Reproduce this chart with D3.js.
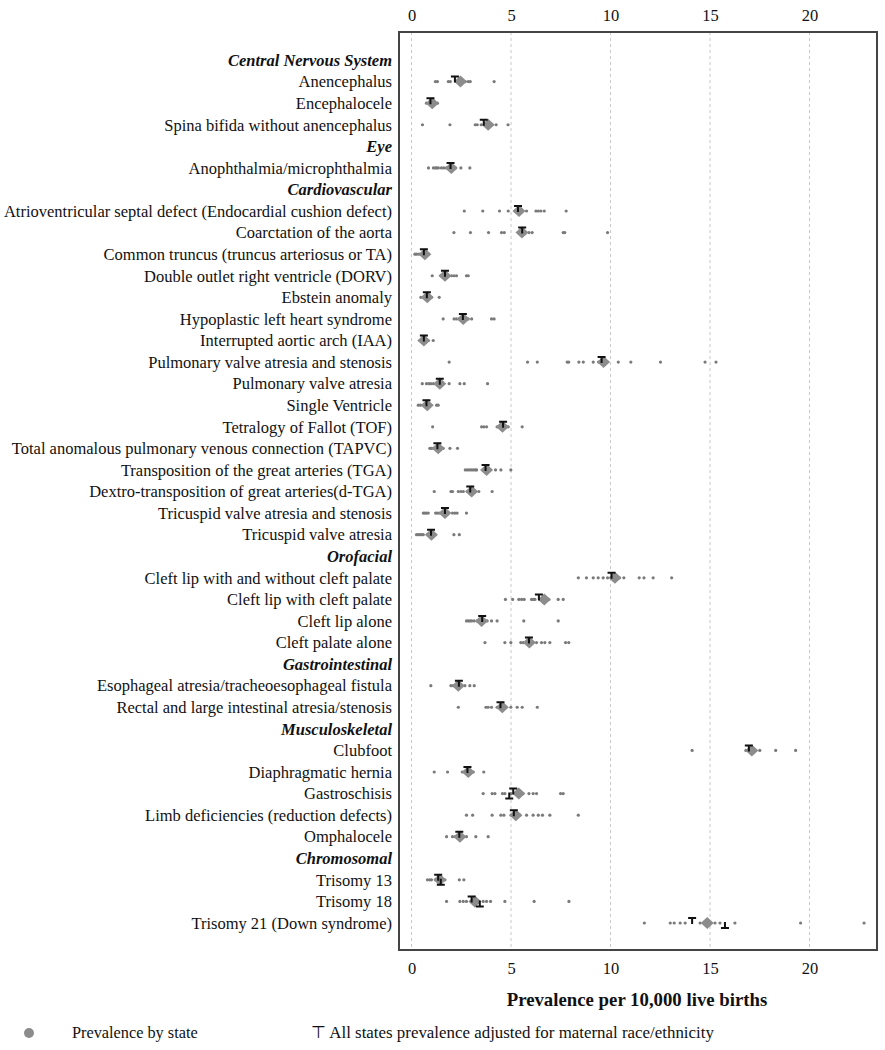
<!DOCTYPE html>
<html><head><meta charset="utf-8">
<script src="https://cdn.jsdelivr.net/npm/d3@7"></script>
<style>
body{margin:0;background:#fff;}
text{font-family:"Liberation Serif","Times New Roman",serif;fill:#111;}
</style></head>
<body><svg id="c" width="885" height="1050"></svg>
<script>
const labels = [
"Central Nervous System","Anencephalus","Encephalocele","Spina bifida without anencephalus",
"Eye","Anophthalmia/microphthalmia",
"Cardiovascular","Atrioventricular septal defect (Endocardial cushion defect)","Coarctation of the aorta",
"Common truncus (truncus arteriosus or TA)","Double outlet right ventricle (DORV)","Ebstein anomaly",
"Hypoplastic left heart syndrome","Interrupted aortic arch (IAA)","Pulmonary valve atresia and stenosis",
"Pulmonary valve atresia","Single Ventricle","Tetralogy of Fallot (TOF)",
"Total anomalous pulmonary venous connection (TAPVC)","Transposition of the great arteries (TGA)",
"Dextro-transposition of great arteries(d-TGA)","Tricuspid valve atresia and stenosis","Tricuspid valve atresia",
"Orofacial","Cleft lip with and without cleft palate","Cleft lip with cleft palate","Cleft lip alone","Cleft palate alone",
"Gastrointestinal","Esophageal atresia/tracheoesophageal fistula","Rectal and large intestinal atresia/stenosis",
"Musculoskeletal","Clubfoot","Diaphragmatic hernia","Gastroschisis","Limb deficiencies (reduction defects)","Omphalocele",
"Chromosomal","Trisomy 13","Trisomy 18","Trisomy 21 (Down syndrome)"
];
const headers = ["Central Nervous System","Eye","Cardiovascular","Orofacial","Gastrointestinal","Musculoskeletal","Chromosomal"];

// prevalence by state (per 10,000 live births), null for group headers
const stateValues = [
null,
[1.2,1.3,1.85,1.95,2.3,2.5,2.7,2.85,2.95,4.15],
[0.75,0.85,0.95,1.05,1.15,1.3],
[0.55,1.93,3.2,3.3,3.5,3.7,3.9,4.05,4.25,4.85],
null,
[0.85,1.1,1.2,1.27,1.35,1.5,1.62,1.75,1.9,2.05,2.2,2.48,2.93],
null,
[2.65,3.58,4.42,4.86,5.2,5.5,5.78,6.25,6.37,6.5,6.67,7.77],
[2.13,2.96,3.87,4.52,4.66,5.4,5.7,5.9,6.06,7.62,7.7,9.85],
[0.17,0.25,0.37,0.5,0.65,0.75,0.84],
[1.04,1.47,1.6,1.8,2.01,2.14,2.26,2.76,2.85],
[0.47,0.59,0.7,0.85,1.0,1.39],
[1.59,2.14,2.26,2.4,2.6,2.85,3.02,4.02,4.15],
[0.42,0.55,0.7,0.84,1.09],
[1.89,5.83,6.32,7.82,7.9,8.41,8.63,9.13,9.4,9.8,10.39,11.02,12.51,14.75,15.3],
[0.54,0.75,0.87,0.97,1.1,1.25,1.55,1.89,2.43,2.65,3.82],
[0.34,0.45,0.6,0.9,1.26,1.34],
[1.06,3.52,3.63,3.77,4.3,4.5,4.75,4.86,5.56],
[0.92,1.0,1.09,1.2,1.45,1.59,1.93,2.31],
[2.7,2.8,2.9,3.0,3.1,3.2,3.27,3.6,3.9,4.22,4.49,4.99],
[1.14,1.98,2.06,2.35,2.48,2.6,2.8,3.15,3.38,4.05],
[0.59,0.67,0.75,0.84,1.21,1.29,1.39,1.55,1.8,2.06,2.18,2.29,2.76],
[0.25,0.34,0.42,0.5,0.59,0.8,1.17,2.13,2.4],
null,
[8.38,8.79,9.13,9.38,9.63,9.85,10.45,10.67,11.44,11.68,12.14,13.07],
[4.72,5.08,5.39,5.53,5.66,6.03,6.11,6.2,6.9,7.37,7.62],
[2.76,2.85,2.93,3.02,3.15,3.3,3.8,4.02,4.3,5.64,7.37],
[3.69,4.69,4.99,5.49,5.61,6.1,6.28,6.53,6.7,6.95,7.74,7.9],
null,
[0.97,1.98,2.09,2.2,2.5,2.68,2.93,3.15],
[2.35,3.74,3.85,4.02,4.3,4.7,4.99,5.31,5.56,6.32],
null,
[14.1,16.8,17.2,17.5,18.3,19.3],
[1.14,1.81,2.55,2.68,2.95,3.1,3.63],
[3.6,4.05,4.19,4.57,4.69,5.0,5.25,5.6,5.9,6.11,6.28,7.49,7.62],
[2.76,3.07,4.05,4.49,4.64,5.0,5.45,5.78,6.11,6.37,6.58,6.95,8.38],
[1.76,2.06,2.2,2.6,2.76,3.23,3.85],
null,
[0.8,0.92,1.0,1.2,1.55,1.68,2.4,2.63],
[1.76,2.43,2.6,2.76,3.3,3.6,3.77,3.97,4.69,6.16,7.91],
[11.7,13.0,13.2,13.5,13.75,14.5,15.25,15.5,16.25,19.55,22.74]
];
// pooled prevalence (diamond)
const overall = [null,2.46,1.04,3.85,null,2.0,null,5.4,5.55,0.67,1.68,0.79,2.6,0.62,9.65,1.42,0.79,4.57,1.34,3.77,3.02,1.68,1.0,
 null,10.22,6.67,3.52,5.92,null,2.35,4.56,null,17.1,2.85,5.39,5.24,2.43,null,1.42,3.18,14.86];
// all states prevalence adjusted for maternal race/ethnicity (T marker)
const adjusted = [null,2.18,0.95,3.63,null,1.96,null,5.35,5.56,0.62,1.68,0.77,2.58,0.62,9.55,1.42,0.75,4.6,1.3,3.72,2.95,1.68,0.98,
 null,10.05,6.4,3.55,5.9,null,2.38,4.47,null,16.95,2.81,5.11,5.14,2.4,null,1.34,3.02,14.1];
// secondary (inverted) marker
const adjustedLow = [null,null,null,null,null,null,null,null,null,null,null,null,null,null,null,null,null,null,null,null,null,null,null,
 null,null,null,null,null,null,null,null,null,null,null,4.91,null,null,null,1.47,3.43,15.75];
const xTicks = [0,5,10,15,20];

const svg = d3.select("#c");
const x = d3.scaleLinear().domain([-0.63,23.39]).range([399,877]);
const y = d3.scalePoint().domain(d3.range(labels.length)).range([60,923]);
const yTop = 32, yBot = 950;

// grid
svg.append("g").selectAll("line").data(xTicks).join("line")
 .attr("x1",d=>x(d)).attr("x2",d=>x(d)).attr("y1",yTop).attr("y2",yBot)
 .attr("stroke","#c8c8c8").attr("stroke-width",1).attr("stroke-dasharray","3,3");

// axes
const axTop = svg.append("g").attr("transform",`translate(0,${yTop})`)
 .call(d3.axisTop(x).tickValues(xTicks).tickSize(0).tickPadding(11));
const axBot = svg.append("g").attr("transform",`translate(0,${yBot})`)
 .call(d3.axisBottom(x).tickValues(xTicks).tickSize(0).tickPadding(12));
[axTop,axBot].forEach(a=>{a.select(".domain").remove();
 a.selectAll("text").style("font-family","Liberation Serif, serif").style("font-size","16.5px").attr("fill","#111");});

// frame
svg.append("rect").attr("x",399).attr("y",yTop).attr("width",877-399).attr("height",yBot-yTop)
 .attr("fill","none").attr("stroke","#444").attr("stroke-width",2);

// labels
svg.append("g").selectAll("text").data(labels).join("text")
 .attr("x",392).attr("y",(d,i)=>y(i)).attr("dy","0.35em").attr("text-anchor","end")
 .style("font-size","16.5px")
 .style("font-weight",d=>headers.includes(d)?"bold":"normal")
 .style("font-style",d=>headers.includes(d)?"italic":"normal")
 .text(d=>d);

// state dots
const dots = [];
stateValues.forEach((arr,i)=>{ if(arr) arr.forEach(v=>dots.push({i,v})); });
svg.append("g").selectAll("circle").data(dots).join("circle")
 .attr("cx",d=>x(d.v)).attr("cy",d=>y(d.i)).attr("r",1.6).attr("fill","#7a7a7a");

// diamonds
const dia = overall.map((v,i)=>({i,v})).filter(d=>d.v!=null);
svg.append("g").selectAll("path").data(dia).join("path")
 .attr("transform",d=>`translate(${x(d.v)},${y(d.i)})`)
 .attr("d","M0,-6L6.5,0L0,6L-6.5,0Z").attr("fill","#8c8c8c");

// T markers
const tm = adjusted.map((v,i)=>({i,v})).filter(d=>d.v!=null);
svg.append("g").selectAll("path").data(tm).join("path")
 .attr("transform",d=>`translate(${x(d.v)},${y(d.i)})`)
 .attr("d","M-4,-5H4M0,-5V1").attr("stroke","#111").attr("stroke-width",2).attr("fill","none");
const tl = adjustedLow.map((v,i)=>({i,v})).filter(d=>d.v!=null);
svg.append("g").selectAll("path").data(tl).join("path")
 .attr("transform",d=>`translate(${x(d.v)},${y(d.i)})`)
 .attr("d","M-4,5H4M0,5V-1").attr("stroke","#111").attr("stroke-width",2).attr("fill","none");

// axis title
svg.append("text").attr("x",637).attr("y",1006).attr("text-anchor","middle")
 .style("font-size","18.8px").style("font-weight","bold").text("Prevalence per 10,000 live births");

// legend
svg.append("circle").attr("cx",29).attr("cy",1033).attr("r",5).attr("fill","#8c8c8c");
svg.append("text").attr("x",72).attr("y",1038).style("font-size","16.3px").text("Prevalence by state");
svg.append("text").attr("x",311).attr("y",1038).style("font-size","16.9px").text("⊤ All states prevalence adjusted for maternal race/ethnicity");
</script></body></html>
